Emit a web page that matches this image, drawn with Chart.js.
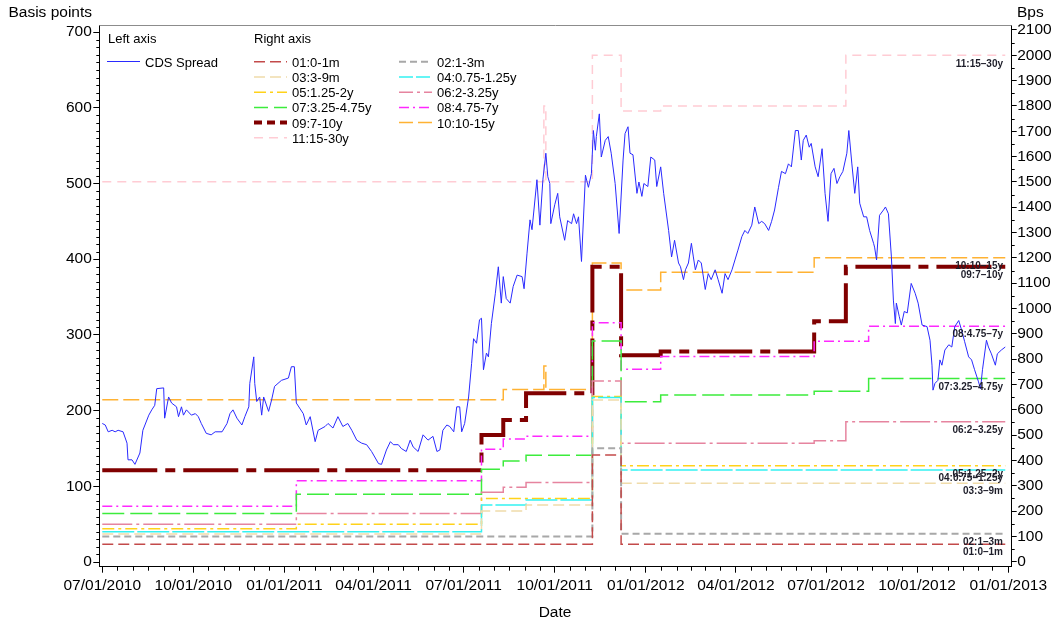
<!DOCTYPE html>
<html>
<head>
<meta charset="utf-8">
<script src="https://cdn.jsdelivr.net/npm/chart.js@4.4.1/dist/chart.umd.min.js"></script>
<style>
  html, body { margin: 0; padding: 0; background: #fff; }
  #wrap { width: 1054px; height: 626px; }
</style>
</head>
<body>
<div id="wrap"><canvas id="chart" width="1054" height="626"></canvas></div>
<script>
const FONT = "'Liberation Sans', Arial, sans-serif";

// x axis: quarter ticks
const quarterDates = ['2010-07-01', '2010-10-01', '2011-01-01', '2011-04-01', '2011-07-01', '2011-10-01',
    '2012-01-01', '2012-04-01', '2012-07-01', '2012-10-01', '2013-01-01'];
const leftTicks = [0, 100, 200, 300, 400, 500, 600, 700];
const rightTicks = [0, 100, 200, 300, 400, 500, 600, 700, 800, 900, 1000, 1100, 1200, 1300, 1400, 1500,
    1600, 1700, 1800, 1900, 2000, 2100];

// CDS spread (left axis), day = days since 07/01/2010
const cdsDay = [0, 3, 6, 10, 13, 16, 21, 25, 26, 30, 33, 38, 41, 47, 50, 53, 55, 62, 63, 67, 70, 75, 77, 80, 82, 85,
    90, 94, 97, 100, 105, 110, 114, 121, 126, 129, 132, 136, 141, 144, 148, 149, 153, 154, 156, 159, 161, 163, 168,
    171, 174, 181, 188, 191, 194, 196, 203, 206, 210, 215, 218, 225, 228, 233, 238, 243, 248, 252, 257, 262, 267,
    272, 279, 282, 287, 291, 294, 299, 302, 307, 311, 314, 319, 324, 329, 334, 338, 341, 344, 348, 351, 355, 358,
    361, 363, 366, 370, 373, 375, 378, 381, 383, 385, 388, 390, 393, 397, 400, 403, 405, 408, 412, 415, 419, 424,
    426, 429, 432, 434, 439, 442, 445, 448, 450, 452, 453, 457, 460, 462, 467, 470, 474, 476, 479, 481, 484, 488,
    491, 494, 496, 498, 499, 502, 504, 508, 511, 514, 518, 522, 526, 528, 531, 533, 536, 540, 542, 545, 547, 551,
    554, 558, 560, 564, 567, 572, 575, 578, 582, 584, 587, 589, 592, 595, 597, 599, 602, 605, 609, 612, 615, 619,
    622, 626, 629, 632, 636, 639, 642, 646, 649, 652, 656, 659, 663, 666, 669, 673, 676, 679, 683, 686, 690, 693,
    696, 700, 703, 706, 708, 711, 714, 716, 720, 723, 727, 730, 733, 736, 739, 742, 745, 748, 752, 754, 757, 760,
    763, 765, 769, 772, 775, 779, 780, 782, 785, 789, 791, 794, 797, 799, 801, 802, 805, 807, 810, 813, 817, 821,
    824, 828, 833, 836, 838, 839, 841, 844, 846, 848, 851, 855, 858, 861, 865, 868, 871, 875, 878, 881, 885, 887,
    889, 893, 895, 898, 902, 904, 908, 912];
const cdsBps = [183, 181, 172, 174, 172, 174, 172, 157, 135, 135, 129, 144, 174, 194, 201, 207, 229, 230, 190, 218,
    210, 205, 192, 205, 194, 201, 194, 196, 192, 183, 170, 168, 172, 172, 183, 196, 201, 190, 181, 192, 205, 236, 271,
    236, 212, 218, 194, 218, 199, 214, 232, 240, 243, 258, 258, 210, 196, 181, 192, 159, 174, 179, 183, 177, 192,
    179, 183, 174, 161, 157, 155, 146, 130, 129, 148, 159, 155, 155, 150, 146, 161, 152, 146, 168, 161, 166, 146,
    148, 174, 181, 179, 172, 205, 205, 172, 183, 218, 262, 295, 289, 320, 322, 254, 276, 271, 315, 355, 390, 342,
    377, 348, 342, 364, 379, 377, 361, 408, 452, 439, 505, 445, 505, 540, 509, 500, 447, 472, 487, 456, 425, 451,
    447, 460, 447, 456, 397, 511, 495, 513, 570, 544, 562, 592, 535, 557, 562, 540, 500, 434, 531, 566, 575, 540,
    538, 487, 502, 483, 500, 496, 535, 531, 496, 522, 487, 438, 403, 425, 395, 390, 373, 386, 395, 421, 403, 386,
    399, 395, 360, 381, 373, 386, 373, 355, 381, 373, 386, 399, 412, 430, 438, 434, 445, 469, 447, 450, 447, 438,
    450, 465, 495, 516, 513, 526, 522, 570, 570, 531, 557, 564, 548, 553, 522, 509, 546, 487, 450, 513, 520, 500,
    509, 516, 540, 570, 527, 487, 522, 474, 456, 456, 438, 421, 416, 399, 458, 465, 469, 460, 403, 346, 315, 342,
    324, 313, 331, 329, 368, 355, 342, 313, 311, 293, 260, 227, 236, 240, 267, 260, 280, 287, 284, 311, 319, 306,
    291, 271, 267, 254, 238, 229, 254, 293, 284, 275, 260, 275, 280, 284];

// tenor buckets (right axis): step change dates and levels
const t01Dates = ['2010-07-01', '2011-11-08', '2011-12-07', '2012-12-29'];
const t01Bps = [69, 421, 69, 69];
const t02Dates = ['2010-07-01', '2011-11-08', '2011-12-07', '2012-12-29'];
const t02Bps = [100, 448, 110, 110];
const t03Dates = ['2010-07-01', '2011-07-19', '2011-09-02', '2011-11-08', '2011-12-07', '2012-12-29'];
const t03Bps = [109, 200, 224, 639, 310, 310];
const t04Dates = ['2010-07-01', '2011-07-19', '2011-09-02', '2011-11-08', '2011-12-07', '2012-12-29'];
const t04Bps = [118, 224, 244, 648, 362, 362];
const t05Dates = ['2010-07-01', '2011-01-13', '2011-07-19', '2011-11-08', '2011-12-07', '2012-12-29'];
const t05Bps = [130, 148, 250, 652, 379, 379];
const t06Dates = ['2010-07-01', '2011-01-13', '2011-07-19', '2011-08-10', '2011-09-02', '2011-11-08', '2011-12-07',
    '2012-06-19', '2012-07-21', '2012-12-29'];
const t06Bps = [148, 190, 274, 294, 313, 714, 468, 478, 553, 553];
const t07Dates = ['2010-07-01', '2011-01-13', '2011-07-19', '2011-08-10', '2011-09-02', '2011-11-08', '2011-12-07',
    '2012-01-16', '2012-06-19', '2012-08-13', '2012-12-29'];
const t07Bps = [190, 266, 365, 398, 420, 872, 632, 658, 673, 724, 724];
const t08Dates = ['2010-07-01', '2011-01-13', '2011-07-19', '2011-08-10', '2011-09-02', '2011-11-08', '2011-12-07',
    '2012-01-16', '2012-06-19', '2012-08-13', '2012-12-29'];
const t08Bps = [219, 320, 444, 485, 495, 944, 760, 810, 871, 930, 930];
const t09Dates = ['2010-07-01', '2011-07-19', '2011-08-10', '2011-09-02', '2011-11-08', '2011-12-07', '2012-01-16',
    '2012-06-19', '2012-07-21', '2012-12-29'];
const t09Bps = [361, 500, 560, 665, 1165, 815, 830, 950, 1165, 1165];
const t10Dates = ['2010-07-01', '2011-08-10', '2011-09-20', '2011-09-22', '2011-11-08', '2011-12-07', '2012-01-16',
    '2012-06-19', '2012-12-29'];
const t10Bps = [640, 680, 773, 680, 1180, 1073, 1143, 1200, 1200];
const t11Dates = ['2010-07-01', '2011-09-20', '2011-09-22', '2011-11-08', '2011-12-07', '2012-01-16', '2012-07-21',
    '2012-12-29'];
const t11Bps = [1500, 1800, 1500, 2000, 1780, 1800, 2000, 2000];

const tenorDates = [t01Dates, t02Dates, t03Dates, t04Dates, t05Dates, t06Dates, t07Dates, t08Dates, t09Dates, t10Dates, t11Dates];
const tenorBps = [t01Bps, t02Bps, t03Bps, t04Bps, t05Bps, t06Bps, t07Bps, t08Bps, t09Bps, t10Bps, t11Bps];
const tenorNames = ['01:0-1m', '02:1-3m', '03:3-9m', '04:0.75-1.25y', '05:1.25-2y', '06:2-3.25y',
    '07:3.25-4.75y', '08:4.75-7y', '09:7-10y', '10:10-15y', '11:15-30y'];

// line styles per tenor
const tenorStyle = [
    {color: '#c34a4a', width: 1.5, dash: [11, 5]},
    {color: '#a8a8a8', width: 2, dash: [7, 4]},
    {color: '#f0dcaa', width: 1.5, dash: [11, 5]},
    {color: '#33f2f2', width: 1.5, dash: [32, 3]},
    {color: '#ffd21a', width: 1.5, dash: [12, 4, 3, 4]},
    {color: '#e6849f', width: 1.5, dash: [30, 4, 3, 4]},
    {color: '#3cec3c', width: 1.5, dash: [22, 6]},
    {color: '#ff28ff', width: 1.5, dash: [10, 4, 2, 4]},
    {color: '#800000', width: 4, dash: [55, 8, 10, 8], legendDash: [8, 5]},
    {color: '#ffb233', width: 1.5, dash: [16, 5]},
    {color: '#ffccd4', width: 1.5, dash: [9, 6]}
];

const BASE = Date.UTC(2010, 6, 1);
function dayOf(s) {
    const p = s.split('-').map(Number);
    return (Date.UTC(p[0], p[1] - 1, p[2]) - BASE) / 86400000;
}
const quarterLabels = quarterDates.map(s => {
    const p = s.split('-');
    return p[1] + '/' + p[2] + '/' + p[0];
});

const datasets = [{
    label: 'CDS Spread',
    data: cdsDay.map((d, i) => ({x: d, y: cdsBps[i]})),
    yAxisID: 'y',
    borderColor: '#2a2aff',
    borderWidth: 1,
    pointRadius: 0,
    tension: 0
}];
tenorNames.forEach((name, k) => {
    const st = tenorStyle[k];
    datasets.push({
        label: name,
        data: tenorDates[k].map((d, i) => ({x: dayOf(d), y: tenorBps[k][i]})),
        yAxisID: 'y1',
        stepped: true,
        borderColor: st.color,
        borderWidth: st.width,
        borderDash: st.dash,
        pointRadius: 0
    });
});

const decor = {
    id: 'decor',
    afterDraw(chart) {
        const ctx = chart.ctx, a = chart.chartArea;
        const sx = chart.scales.x, sy = chart.scales.y, sy1 = chart.scales.y1;
        ctx.save();

        // grey top edge of frame
        ctx.strokeStyle = '#8c8c8c';
        ctx.lineWidth = 1;
        ctx.setLineDash([]);
        ctx.beginPath();
        ctx.moveTo(a.left, a.top + 0.5);
        ctx.lineTo(a.right, a.top + 0.5);
        ctx.stroke();

        // minor ticks
        ctx.strokeStyle = '#000';
        ctx.beginPath();
        for (let v = 10; v <= 700; v += 10) {
            if (v % 100 === 0) continue;
            const py = Math.round(sy.getPixelForValue(v)) + 0.5;
            ctx.moveTo(a.left - 3, py);
            ctx.lineTo(a.left, py);
        }
        for (let v = 50; v <= 2100; v += 100) {
            const py = Math.round(sy1.getPixelForValue(v)) + 0.5;
            ctx.moveTo(a.right, py);
            ctx.lineTo(a.right + 3, py);
        }
        for (let y = 2010; y <= 2012; y++) {
            for (let m = 0; m < 12; m++) {
                if (y === 2010 && m < 6) continue;
                [1, 16].forEach(dd => {
                    if (dd === 1 && m % 3 === 0) return;
                    const px = Math.round(sx.getPixelForValue((Date.UTC(y, m, dd) - BASE) / 86400000)) + 0.5;
                    ctx.moveTo(px, a.bottom);
                    ctx.lineTo(px, a.bottom + 4);
                });
            }
        }
        ctx.stroke();

        // axis titles
        ctx.fillStyle = '#000';
        ctx.font = '15.5px ' + FONT;
        ctx.textBaseline = 'middle';
        ctx.textAlign = 'right';
        ctx.fillText('Basis points', 92, 13);
        ctx.textAlign = 'left';
        ctx.fillText('Bps', 1017, 13);
        ctx.textAlign = 'center';
        ctx.fillText('Date', 555, 613);

        // end labels of tenor lines
        ctx.font = 'bold 10px ' + FONT;
        ctx.fillStyle = '#1e1e2a';
        ctx.textAlign = 'right';
        tenorNames.forEach((name, k) => {
            const bps = tenorBps[k];
            const py = sy1.getPixelForValue(bps[bps.length - 1]);
            ctx.fillText(name.replace('-', '\u2013'), 1003, py + 8.5);
        });

        // legend
        ctx.font = '13px ' + FONT;
        ctx.fillStyle = '#000';
        ctx.textAlign = 'left';
        ctx.fillText('Left axis', 108, 39);
        ctx.fillText('Right axis', 254, 39);
        const sample = (x, y, color, width, dash) => {
            ctx.strokeStyle = color;
            ctx.lineWidth = width;
            ctx.setLineDash(dash);
            ctx.beginPath();
            ctx.moveTo(x, y);
            ctx.lineTo(x + 33, y);
            ctx.stroke();
        };
        sample(107, 61.5, '#2a2aff', 1, []);
        ctx.fillText('CDS Spread', 145, 63);
        const rows = [63.3, 78.5, 93.7, 108.9, 124.1, 139.3];
        tenorNames.forEach((name, k) => {
            const col = k % 2, row = Math.floor(k / 2);
            const x0 = col === 0 ? 254 : 399;
            const st = tenorStyle[k];
            sample(x0, rows[row] - 1.5, st.color, st.width, st.legendDash || st.dash.map(v => Math.min(v, 14)));
            ctx.fillText(name, x0 + 38, rows[row]);
        });
        ctx.restore();
    }
};

const tickFont = {size: 15.5, family: FONT};

new Chart(document.getElementById('chart').getContext('2d'), {
    type: 'line',
    data: {datasets: datasets},
    options: {
        responsive: false,
        animation: false,
        devicePixelRatio: 1,
        layout: {padding: {top: 25, left: 0, right: 0, bottom: 0}},
        plugins: {legend: {display: false}, tooltip: {enabled: false}},
        scales: {
            x: {
                type: 'linear',
                min: -3,
                max: 918.5,
                afterBuildTicks: s => { s.ticks = quarterDates.map(q => ({value: dayOf(q)})); },
                afterFit: s => { s.height = 59.3; },
                ticks: {autoSkip: false, maxRotation: 0, padding: 4, color: '#000', font: tickFont,
                    callback: (v, i) => quarterLabels[i]},
                grid: {drawOnChartArea: false, tickLength: 6, color: '#000'},
                border: {color: '#000'}
            },
            y: {
                position: 'left',
                min: -6.2,
                max: 709.4,
                afterBuildTicks: s => { s.ticks = leftTicks.map(v => ({value: v})); },
                afterFit: s => { s.width = 99.3; },
                ticks: {padding: 1.5, color: '#000', font: tickFont, callback: v => String(v)},
                grid: {drawOnChartArea: false, tickLength: 6, color: '#000'},
                border: {color: '#000'}
            },
            y1: {
                position: 'right',
                min: -19.7,
                max: 2119.5,
                afterBuildTicks: s => { s.ticks = rightTicks.map(v => ({value: v})); },
                afterFit: s => { s.width = 42.3; },
                ticks: {padding: 0.5, color: '#000', font: tickFont, callback: v => String(v)},
                grid: {drawOnChartArea: false, tickLength: 5, color: '#000'},
                border: {color: '#000'}
            }
        }
    },
    plugins: [decor]
});
</script>
</body>
</html>
